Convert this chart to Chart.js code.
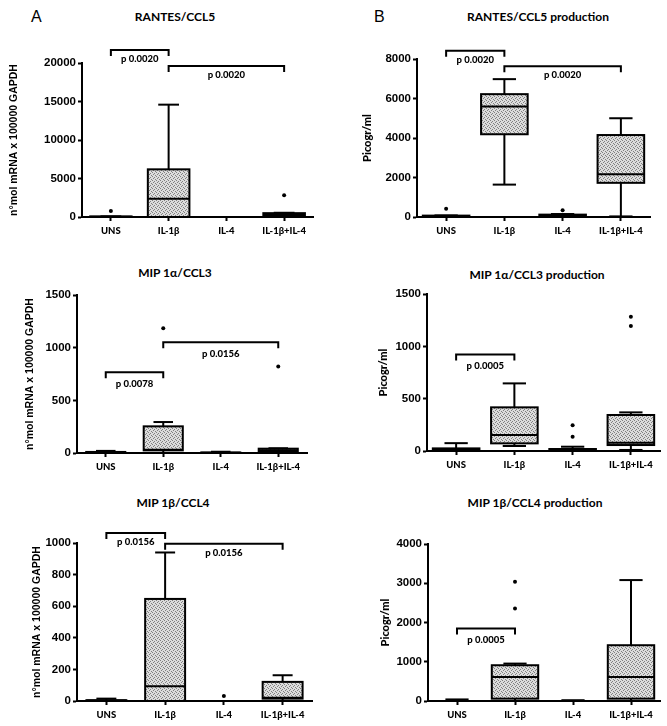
<!DOCTYPE html>
<html lang="en">
<head>
<meta charset="UTF-8">
<title>Chemokine mRNA and production</title>
<script src="https://cdn.jsdelivr.net/npm/chart.js"></script>
<style>
  body { margin: 0; background: #fff; width: 667px; height: 726px; position: relative; overflow: hidden; }
  canvas { position: absolute; }
  .ttl { position: absolute; transform: translateX(-50%); white-space: nowrap; font: bold 12px Lato, sans-serif; line-height: 14px; color: #000; }
  .letter { position: absolute; font: 16px "Liberation Sans", Arial, sans-serif; line-height: 18px; color: #000; }
</style>
</head>
<body>
  <div class="letter" style="left:31px;top:8px">A</div>
  <div class="letter" style="left:374px;top:8px">B</div>
  <div class="ttl" style="left:175px;top:10px">RANTES/CCL5</div>
  <div class="ttl" style="left:538px;top:10px">RANTES/CCL5 production</div>
  <div class="ttl" style="left:175px;top:266px">MIP 1α/CCL3</div>
  <div class="ttl" style="left:537px;top:268px">MIP 1α/CCL3 production</div>
  <div class="ttl" style="left:173px;top:496px">MIP 1β/CCL4</div>
  <div class="ttl" style="left:535px;top:496px">MIP 1β/CCL4 production</div>

  <canvas id="a1" width="330" height="240" style="left:0;top:0"></canvas>
  <canvas id="b1" width="337" height="240" style="left:330px;top:0"></canvas>
  <canvas id="a2" width="330" height="240" style="left:0;top:240px"></canvas>
  <canvas id="b2" width="337" height="240" style="left:330px;top:240px"></canvas>
  <canvas id="a3" width="330" height="246" style="left:0;top:480px"></canvas>
  <canvas id="b3" width="337" height="246" style="left:330px;top:480px"></canvas>

<script>
const categories = ['UNS', 'IL-1β', 'IL-4', 'IL-1β+IL-4'];

// box stats for each group: [min, q1, median, q3, max]
// outliers: [group index, value]; brackets: [from group, to group, height, label]
const rantesMrnaBox = [[0, 0, 30, 70, 80], [0, 0, 2380, 6190, 14590], [0, 0, 0, 0, 0], [0, 100, 250, 500, 550]];
const rantesMrnaOut = [[0, 780], [3, 2810]];
const rantesMrnaP = [[0, 1, 21700, 'p 0.0020'], [1, 3, 19600, 'p 0.0020']];

const rantesProdBox = [[0, 10, 30, 70, 80], [1640, 4190, 5590, 6220, 6980], [0, 20, 60, 120, 150], [30, 1730, 2170, 4150, 5000]];
const rantesProdOut = [[0, 420], [2, 340]];
const rantesProdP = [[0, 1, 8420, 'p 0.0020'], [1, 3, 7630, 'p 0.0020']];

const mip1aMrnaBox = [[0, 0, 5, 10, 20], [0, 25, 30, 253, 294], [0, 0, 3, 5, 12], [0, 10, 25, 41, 45]];
const mip1aMrnaOut = [[1, 1184], [3, 821]];
const mip1aMrnaP = [[0, 1, 767, 'p 0.0078'], [1, 3, 1051, 'p 0.0156']];

const mip1aProdBox = [[0, 5, 15, 25, 75], [48, 73, 153, 417, 646], [0, 5, 10, 19, 41], [10, 57, 80, 344, 369]];
const mip1aProdOut = [[2, 137], [2, 245], [3, 1194], [3, 1283]];
const mip1aProdP = [[0, 1, 923, 'p 0.0005']];

const mip1bMrnaBox = [[0, 0, 3, 5, 15], [0, 0, 93, 646, 940], [0, 0, 0, 0, 0], [0, 15, 21, 121, 163]];
const mip1bMrnaOut = [[2, 32]];
const mip1bMrnaP = [[0, 1, 1063, 'p 0.0156'], [1, 3, 996, 'p 0.0156']];

const mip1bProdBox = [[0, 0, 0, 0, 40], [0, 60, 613, 911, 953], [0, 0, 0, 0, 20], [0, 60, 613, 1421, 3081]];
const mip1bProdOut = [[1, 2357], [1, 3038]];
const mip1bProdP = [[0, 1, 1847, 'p 0.0005']];

const yMax = [20000, 8000, 1500, 1500, 1000, 4000];
const yStep = [5000, 2000, 500, 500, 200, 1000];
const mrnaLabel = 'n°mol mRNA x 100000 GAPDH';
const prodLabel = 'Picogr/ml';

// dotted fill like the original
function stipple() {
  const c = document.createElement('canvas');
  c.width = 4; c.height = 4;
  const g = c.getContext('2d');
  g.fillStyle = '#dcdcdc';
  g.fillRect(0, 0, 4, 4);
  g.fillStyle = '#808080';
  g.fillRect(0, 0, 1, 1); g.fillRect(2, 1, 1, 1); g.fillRect(1, 2, 1, 1); g.fillRect(3, 3, 1, 1);
  return g.createPattern(c, 'repeat');
}
const fill = stipple();

const boxPlugin = {
  id: 'boxes',
  afterDatasetsDraw(chart, args, opts) {
    const { ctx, scales: { x, y } } = chart;
    const meta = chart.getDatasetMeta(0);
    const line = (x1, y1, x2, y2) => { ctx.beginPath(); ctx.moveTo(x1, y1); ctx.lineTo(x2, y2); ctx.stroke(); };
    ctx.save();
    ctx.strokeStyle = '#000';
    ctx.lineWidth = 2;
    opts.stats.forEach((s, i) => {
      const bar = meta.data[i];
      const cx = bar.x, w = bar.width, cap = w * 0.5;
      const [mn, q1, md, q3, mx] = s.map(v => y.getPixelForValue(v));
      if (s[4] > s[3]) { line(cx, q3, cx, mx); line(cx - cap / 2, mx, cx + cap / 2, mx); }
      if (s[0] < s[1]) { line(cx, q1, cx, mn); line(cx - cap / 2, mn, cx + cap / 2, mn); }
      ctx.strokeRect(cx - w / 2, q3, w, q1 - q3);
      line(cx - w / 2, md, cx + w / 2, md);
    });
    // significance brackets
    ctx.font = '900 9.5px Lato, sans-serif';
    ctx.fillStyle = '#000';
    ctx.textAlign = 'center';
    ctx.textBaseline = 'middle';
    opts.brackets.forEach(([a, b, v, label]) => {
      const x1 = x.getPixelForValue(a), x2 = x.getPixelForValue(b), py = y.getPixelForValue(v);
      ctx.beginPath();
      ctx.moveTo(x1, py + 6); ctx.lineTo(x1, py); ctx.lineTo(x2, py); ctx.lineTo(x2, py + 6);
      ctx.stroke();
      ctx.fillText(label, (x1 + x2) / 2, py + opts.labelGap);
    });
    ctx.restore();
  }
};

function panel(id, k, box, out, brackets, cfg) {
  new Chart(document.getElementById(id), {
    type: 'bar',
    data: {
      labels: categories,
      datasets: [{
        data: box.map(s => [s[1], s[3]]),
        backgroundColor: fill,
        borderWidth: 0,
        barPercentage: cfg.pct,
        categoryPercentage: 1
      }, {
        type: 'line',
        data: out.map(([i, v]) => ({ x: categories[i], y: v })),
        showLine: false,
        pointRadius: 2,
        pointBackgroundColor: '#000',
        pointBorderWidth: 0,
        clip: false
      }]
    },
    options: {
      responsive: false,
      animation: false,
      devicePixelRatio: 1,
      layout: { padding: { top: cfg.top, left: 0, right: cfg.right, bottom: 0 } },
      plugins: {
        legend: { display: false },
        tooltip: { enabled: false },
        boxes: { stats: box, brackets: brackets, labelGap: cfg.gap }
      },
      scales: {
        x: {
          ticks: { color: '#000', padding: 4, font: { family: 'Lato', weight: '900', size: 9.5 } },
          grid: { display: true, offset: false, drawOnChartArea: false, drawTicks: true, tickLength: 4, tickWidth: 2, tickColor: '#000' },
          border: { display: true, color: '#000', width: 2 },
          afterFit: s => { s.height = cfg.h - cfg.bottom; }
        },
        y: {
          min: 0,
          max: yMax[k],
          ticks: {
            stepSize: yStep[k],
            color: '#000',
            padding: 2,
            font: { family: 'Liberation Sans', weight: 'bold', size: 11.5 },
            callback: v => String(v)
          },
          grid: { display: true, drawOnChartArea: false, drawTicks: true, tickLength: 4, tickWidth: 2, tickColor: '#000' },
          border: { display: true, color: '#000', width: 2 },
          title: {
            display: true,
            text: cfg.label,
            color: '#000',
            padding: { top: cfg.titleX - 6, bottom: 0 },
            font: cfg.label === mrnaLabel
              ? { family: 'Liberation Sans', weight: 'bold', size: 10.5 }
              : { family: 'Lato', weight: '900', size: 11 }
          },
          afterFit: s => { s.width = cfg.axis; }
        }
      }
    },
    plugins: [boxPlugin]
  });
}

panel('a1', 0, rantesMrnaBox, rantesMrnaOut, rantesMrnaP, { h: 240, top: 63, bottom: 217, axis: 82, right: 17, pct: 0.72, gap: 9, titleX: 14, label: mrnaLabel });
panel('b1', 1, rantesProdBox, rantesProdOut, rantesProdP, { h: 240, top: 59, bottom: 217, axis: 87, right: 17, pct: 0.8, gap: 9, titleX: 37, label: prodLabel });
panel('a2', 2, mip1aMrnaBox, mip1aMrnaOut, mip1aMrnaP, { h: 240, top: 55, bottom: 213, axis: 77, right: 23, pct: 0.68, gap: 12, titleX: 30, label: mrnaLabel });
panel('b2', 3, mip1aProdBox, mip1aProdOut, mip1aProdP, { h: 240, top: 54, bottom: 211, axis: 97, right: 7, pct: 0.8, gap: 12, titleX: 53, label: prodLabel });
panel('a3', 4, mip1bMrnaBox, mip1bMrnaOut, mip1bMrnaP, { h: 246, top: 63, bottom: 221, axis: 77, right: 18, pct: 0.68, gap: 9, titleX: 37, label: mrnaLabel });
panel('b3', 5, mip1bProdBox, mip1bProdOut, mip1bProdP, { h: 246, top: 64, bottom: 221, axis: 98, right: 7, pct: 0.8, gap: 11, titleX: 55, label: prodLabel });
</script>
</body>
</html>
